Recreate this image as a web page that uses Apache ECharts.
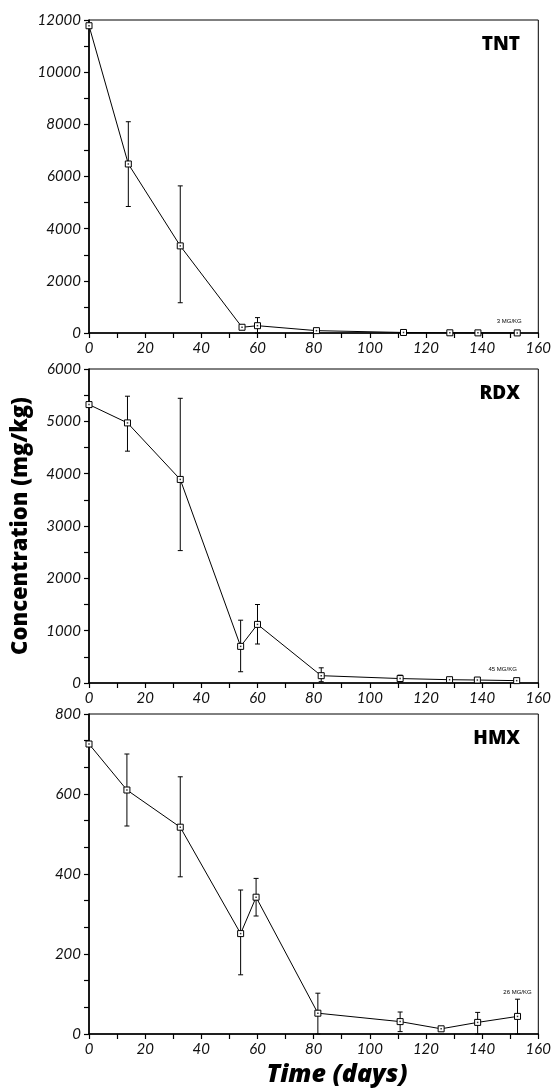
<!DOCTYPE html>
<html>
<head>
<meta charset="utf-8">
<script src="https://cdn.jsdelivr.net/npm/echarts@6/dist/echarts.min.js"></script>
<style>
html,body{margin:0;padding:0;background:#fff;}
#chart{width:554px;height:1089px;}
</style>
</head>
<body>
<div id="chart"></div>
<script>
// ---------- data ----------
var panelNames = ['TNT', 'RDX', 'HMX'];
var xTicks = [0, 20, 40, 60, 80, 100, 120, 140, 160];

var tntDays = [0, 14, 32.5, 54.5, 60, 81, 112, 128.5, 138.5, 152.5];
var tntVals = [11780, 6480, 3340, 220, 280, 90, 20, 8, 5, 3];
var tntHi   = [null, 8100, 5640, null, 590, null, null, null, null, null];
var tntLo   = [null, 4850, 1160, null, 0, null, null, null, null, null];
var tntNote = '3 MG/KG';

var rdxDays = [0, 13.7, 32.5, 54, 60, 82.7, 110.8, 128.4, 138.3, 152.3];
var rdxVals = [5320, 4970, 3890, 700, 1120, 140, 85, 63, 57, 45];
var rdxHi   = [null, 5480, 5440, 1200, 1500, 290, 150, null, null, null];
var rdxLo   = [null, 4430, 2530, 215, 745, 25, 20, null, null, null];
var rdxNote = '45 MG/KG';

var hmxDays = [0, 13.5, 32.5, 54, 59.5, 81.5, 110.8, 125.4, 138.4, 152.6];
var hmxVals = [725, 610, 517, 251, 342, 52, 31, 13, 29, 44];
var hmxHi   = [null, 700, 643, 360, 389, 102, 55, null, 54, 87];
var hmxLo   = [null, 520, 393, 148, 295, 0, 6, null, 0, 0];
var hmxNote = '26 MG/KG';

var yMax = [12000, 6000, 800];
var yInterval = [2000, 1000, 200];
var yMinorSplit = [2, 2, 3];

var yTitle = 'Concentration (mg/kg)';
var xTitle = 'Time (days)';

// ---------- build ----------
var panels = [
  {days: tntDays, vals: tntVals, hi: tntHi, lo: tntLo, note: tntNote, noteOffset: [-8, 0]},
  {days: rdxDays, vals: rdxVals, hi: rdxHi, lo: rdxLo, note: rdxNote, noteOffset: [-14, 0]},
  {days: hmxDays, vals: hmxVals, hi: hmxHi, lo: hmxLo, note: hmxNote, noteOffset: [0, -13]}
];

var gridPos = [
  {top: 20, height: 313},
  {top: 369, height: 314},
  {top: 714, height: 320}
];

var labelFont = {fontFamily: 'Lato', fontStyle: 'italic', fontSize: 15, color: '#111'};
function plain(v) { return String(v); }

var grids = [], xAxes = [], yAxes = [], series = [], graphics = [];

panels.forEach(function (p, i) {
  grids.push({left: 89, right: 15, top: gridPos[i].top, height: gridPos[i].height,
    show: true, borderColor: '#000', borderWidth: 1, backgroundColor: 'transparent'});
  xAxes.push({
    type: 'value', gridIndex: i, min: xTicks[0], max: xTicks[xTicks.length - 1], interval: 20,
    axisLine: {show: true, lineStyle: {color: '#000', width: 1.6}},
    axisTick: {show: true, length: 5, lineStyle: {color: '#000', width: 1.2}},
    minorTick: {show: true, splitNumber: 2, length: 5, lineStyle: {color: '#000', width: 1.2}},
    splitLine: {show: false},
    axisLabel: Object.assign({margin: 8, formatter: plain}, labelFont)
  });
  yAxes.push({
    type: 'value', gridIndex: i, min: 0, max: yMax[i], interval: yInterval[i],
    axisLine: {show: true, lineStyle: {color: '#000', width: 1.6}},
    axisTick: {show: true, length: 5, lineStyle: {color: '#000', width: 1.2}},
    minorTick: {show: true, splitNumber: yMinorSplit[i], length: 5, lineStyle: {color: '#000', width: 1.2}},
    splitLine: {show: false},
    axisLabel: Object.assign({margin: 8, formatter: plain}, labelFont)
  });

  // error bars
  var errData = [];
  p.days.forEach(function (d, k) {
    if (p.hi[k] !== null) errData.push([d, p.lo[k], p.hi[k]]);
  });
  series.push({
    type: 'custom', xAxisIndex: i, yAxisIndex: i, silent: true, z: 2,
    data: errData,
    renderItem: function (params, api) {
      var x = api.value(0);
      var lo = api.coord([x, api.value(1)]);
      var hi = api.coord([x, api.value(2)]);
      var w = 2.5;
      var st = {stroke: '#000', lineWidth: 1};
      return {type: 'group', children: [
        {type: 'line', shape: {x1: lo[0], y1: lo[1], x2: hi[0], y2: hi[1]}, style: st},
        {type: 'line', shape: {x1: hi[0] - w, y1: hi[1], x2: hi[0] + w, y2: hi[1]}, style: st},
        {type: 'line', shape: {x1: lo[0] - w, y1: lo[1], x2: lo[0] + w, y2: lo[1]}, style: st}
      ]};
    }
  });

  // main line
  var lineData = p.days.map(function (d, k) {
    var item = {value: [d, p.vals[k]]};
    if (k === p.days.length - 1) {
      item.label = {show: true, formatter: p.note, position: 'top', offset: p.noteOffset,
        fontSize: 6, fontFamily: 'Liberation Sans', color: '#000'};
    }
    return item;
  });
  series.push({
    type: 'line', xAxisIndex: i, yAxisIndex: i, z: 3,
    data: lineData,
    symbol: 'rect', symbolSize: 6, showSymbol: true,
    lineStyle: {color: '#000', width: 1},
    itemStyle: {color: '#fff', borderColor: '#000', borderWidth: 1},
    animation: false
  });
  // centre dots
  series.push({
    type: 'scatter', xAxisIndex: i, yAxisIndex: i, z: 4, silent: true,
    data: p.days.map(function (d, k) { return [d, p.vals[k]]; }),
    symbol: 'rect', symbolSize: 1.5, itemStyle: {color: '#000'}, animation: false
  });

  graphics.push({type: 'text', right: 34, top: gridPos[i].top + 15,
    style: {text: panelNames[i], font: '900 19px "Open Sans"', fill: '#000'}});
});

graphics.push({type: 'text', x: 21, y: 526, rotation: Math.PI / 2,
  style: {text: yTitle, font: '800 22px "Open Sans"', fill: '#000', align: 'center', verticalAlign: 'middle'}});
graphics.push({type: 'text', x: 337, y: 1075,
  style: {text: xTitle, font: 'italic 800 25px "Open Sans"', fill: '#000', align: 'center', verticalAlign: 'middle'}});

var chart = echarts.init(document.getElementById('chart'), null, {renderer: 'canvas'});
chart.setOption({
  animation: false,
  backgroundColor: '#fff',
  grid: grids,
  xAxis: xAxes,
  yAxis: yAxes,
  series: series,
  graphic: graphics
});
</script>
</body>
</html>
